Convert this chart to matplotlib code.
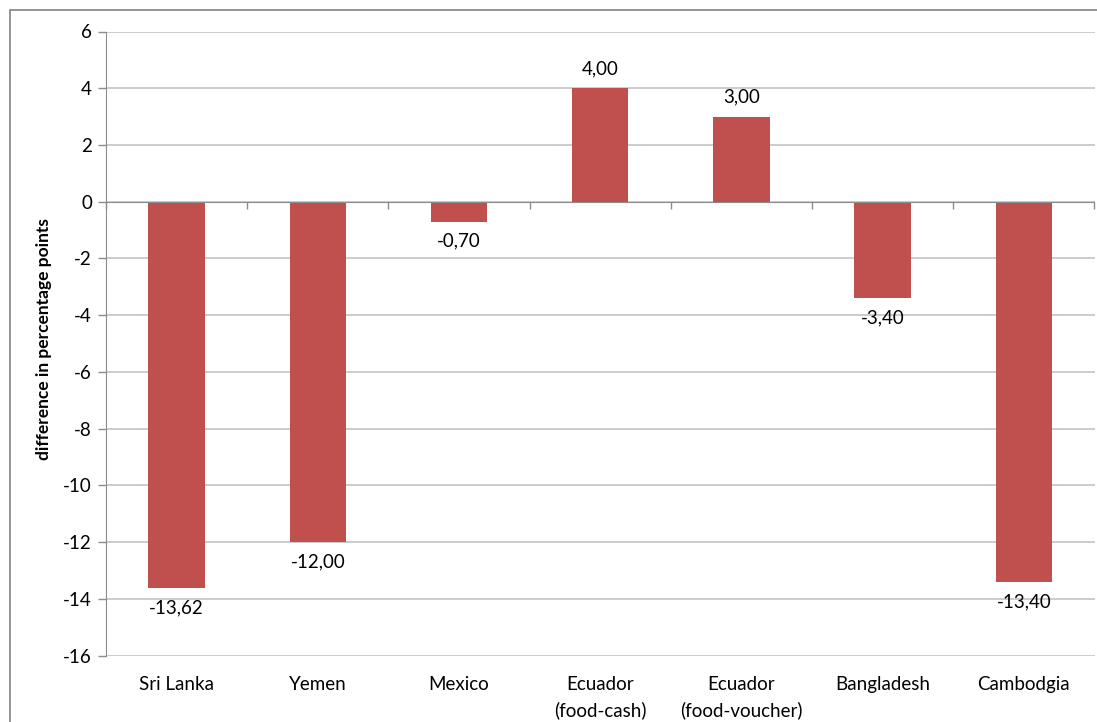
import matplotlib
matplotlib.use("Agg")
import matplotlib.pyplot as plt
from matplotlib.patches import Rectangle
from matplotlib.transforms import blended_transform_factory
import numpy as np

categories = ["Sri Lanka", "Yemen", "Mexico", "Ecuador\n(food-cash)",
              "Ecuador\n(food-voucher)", "Bangladesh", "Cambodgia"]
values = [-13.62, -12.00, -0.70, 4.00, 3.00, -3.40, -13.40]
y_ticks = [6, 4, 2, 0, -2, -4, -6, -8, -10, -12, -14, -16]
y_label = "difference in percentage points"

plt.rcParams["font.family"] = ["Lato", "DejaVu Sans"]

W, H = 1097, 722
fig = plt.figure(figsize=(W / 100, H / 100), dpi=100)

# chart frame
fig.patches.append(Rectangle((10 / W, -0.05), 1.2, 1 - 10 / H + 0.05,
                             transform=fig.transFigure, fill=False,
                             edgecolor="#8c8c8c", linewidth=1.3))

left, right, top, bottom = 106, 1094.5, 31.5, 655.7
ax = fig.add_axes([left / W, 1 - bottom / H, (right - left) / W, (bottom - top) / H])

x = np.arange(len(categories))
ax.bar(x, values, width=0.4, color="#C0504D", zorder=3)

ax.set_xlim(-0.5, len(categories) - 0.5)
ax.set_ylim(-16, 6)
ax.set_yticks(y_ticks)
ax.set_yticklabels([str(t) for t in y_ticks], fontsize=13.5)
ax.yaxis.grid(True, color="#bfbfbf", linewidth=1.1, zorder=0)
ax.tick_params(axis="y", length=6, width=1, color="#8c8c8c", pad=4)

for s in ["top", "right"]:
    ax.spines[s].set_visible(False)
ax.spines["left"].set_color("#8c8c8c")
ax.spines["bottom"].set_position(("data", 0))
ax.spines["bottom"].set_color("#8c8c8c")
ax.spines["bottom"].set_zorder(4)
ax.set_xticks(np.arange(len(categories) + 1) - 0.5)
ax.set_xticklabels([])
ax.tick_params(axis="x", length=5, width=1, color="#8c8c8c", direction="out")

# category names below the plot
trans = blended_transform_factory(ax.transData, ax.transAxes)
for xi, name in zip(x, categories):
    ax.text(xi, -0.032, name, transform=trans, ha="center", va="top",
            fontsize=13.5, linespacing=1.55)

# value labels
for xi, v in zip(x, values):
    off = 8 if v >= 0 else -8
    ax.annotate(f"{v:.2f}".replace(".", ","), (xi, v), xytext=(0, off),
                textcoords="offset points", ha="center",
                va="bottom" if v >= 0 else "top", fontsize=13.5)

fig.text(44 / W, 1 - 339 / H, y_label, rotation=90,
         ha="center", va="center", fontsize=12.5, fontweight="bold")

fig.savefig("out.png", dpi=100)
